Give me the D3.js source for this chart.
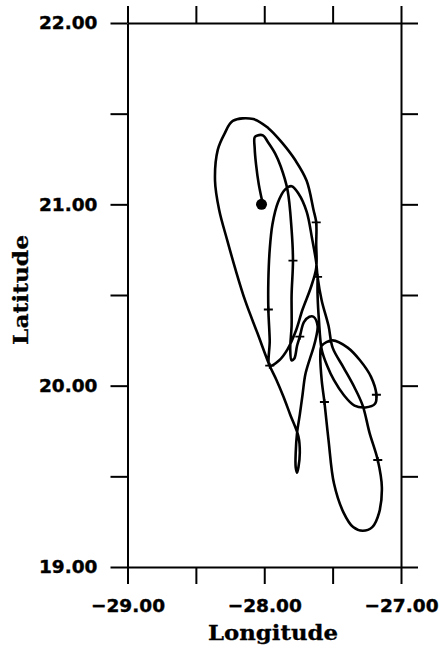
<!DOCTYPE html>
<html>
<head>
<meta charset="utf-8">
<script src="https://cdn.jsdelivr.net/npm/d3@7"></script>
<style>
  body { margin: 0; background: #fff; }
  .axis path, .axis line { stroke: #000; stroke-width: 2; }
  .axis text { font-family: "DejaVu Sans", sans-serif; font-weight: bold; font-size: 18.5px; fill: #000; stroke: #000; stroke-width: 0.4; }
  .title { font-family: "DejaVu Serif", serif; font-weight: bold; font-size: 21px; fill: #000; stroke: #000; stroke-width: 0.3; }
</style>
</head>
<body>
<script>
// track of the drifter, in order (longitude, latitude)
const trackLon = [
  -28.01, -28.04, -28.06, -28.07, -28.07, -28.05, -28.01, -27.97, -27.92, -27.88, -27.83,
  -27.80, -27.79, -27.80, -27.80, -27.81, -27.80, -27.78, -27.76, -27.74, -27.71, -27.67,
  -27.64, -27.61, -27.62, -27.64, -27.67, -27.70, -27.72, -27.74, -27.76,
  -27.77, -27.77, -27.76, -27.75, -27.74, -27.75,
  -27.81, -27.86, -27.91, -27.96,
  -28.05, -28.14, -28.21, -28.27, -28.33, -28.36, -28.34, -28.29, -28.23, -28.08, -27.97,
  -27.87, -27.77, -27.69, -27.64, -27.62, -27.62, -27.62,
  -27.66, -27.72, -27.77, -27.83, -27.89, -27.96,
  -27.96, -27.97, -27.97, -27.96, -27.94, -27.90, -27.85, -27.80, -27.75, -27.69, -27.65,
  -27.62, -27.61,
  -27.58, -27.53, -27.50, -27.42, -27.34, -27.28, -27.23, -27.17, -27.14, -27.16, -27.21,
  -27.28, -27.35, -27.42, -27.49, -27.53, -27.56, -27.58, -27.59, -27.58,
  -27.50, -27.39, -27.30, -27.22, -27.18, -27.19, -27.26, -27.34, -27.42, -27.49, -27.54,
  -27.58, -27.60, -27.61, -27.61
];
const trackLat = [
  21.00, 21.11, 21.22, 21.31, 21.37, 21.38, 21.38, 21.34, 21.28, 21.21, 21.08,
  20.86, 20.69, 20.50, 20.33, 20.20, 20.14, 20.15, 20.22, 20.27, 20.35, 20.38,
  20.38, 20.33, 20.27, 20.21, 20.14, 20.06, 19.95, 19.84, 19.74,
  19.63, 19.55, 19.52, 19.55, 19.63, 19.72,
  19.84, 19.94, 20.03, 20.11,
  20.29, 20.47, 20.64, 20.80, 20.97, 21.13, 21.30, 21.39, 21.46, 21.47, 21.42,
  21.34, 21.24, 21.13, 20.97, 20.90, 20.78, 20.65,
  20.54, 20.42, 20.30, 20.20, 20.14, 20.11,
  20.25, 20.42, 20.58, 20.75, 20.89, 21.01, 21.08, 21.10, 21.06, 20.96, 20.81,
  20.68, 20.60,
  20.47, 20.33, 20.21, 20.10, 19.99, 19.89, 19.74, 19.59, 19.44, 19.30, 19.22,
  19.20, 19.22, 19.30, 19.46, 19.70, 19.91, 20.03, 20.17, 20.22,
  20.25, 20.21, 20.14, 20.05, 19.95, 19.90, 19.88, 19.89, 19.95, 20.03, 20.11,
  20.20, 20.36, 20.50, 20.59
];

// daily marks on the track
const markLon = [-27.79, -27.74, -27.96, -27.62, -27.97, -27.61, -27.17, -27.56, -27.18];
const markLat = [20.69, 20.27, 20.11, 20.90, 20.42, 20.60, 19.59, 19.91, 19.95];

const startLon = -28.02;
const startLat = 21.00;

const lonTicks = [-29, -28.5, -28, -27.5, -27];
const latTicks = [19, 19.5, 20, 20.5, 21, 21.5, 22];

const width = 441, height = 651;

const svg = d3.select("body").append("svg")
    .attr("width", width)
    .attr("height", height);

const x = d3.scaleLinear().domain([-29, -27]).range([127.5, 401]);
const y = d3.scaleLinear().domain([19, 22]).range([567, 23]);

function fmt(d){
    return Number.isInteger(d) ? d.toFixed(2).replace("-", "\u2212") : "";
}

// axes, ticks pointing outwards on all four sides
svg.append("g").attr("class", "axis")
    .attr("transform", "translate(0," + y(19) + ")")
    .call(d3.axisBottom(x).tickValues(lonTicks).tickSize(17).tickSizeOuter(0).tickPadding(15).tickFormat(fmt));

svg.append("g").attr("class", "axis")
    .attr("transform", "translate(0," + y(22) + ")")
    .call(d3.axisTop(x).tickValues(lonTicks).tickSize(17).tickSizeOuter(0).tickFormat(""));

svg.append("g").attr("class", "axis")
    .attr("transform", "translate(" + x(-29) + ",0)")
    .call(d3.axisLeft(y).tickValues(latTicks).tickSize(17).tickSizeOuter(0).tickPadding(13).tickFormat(fmt));

svg.append("g").attr("class", "axis")
    .attr("transform", "translate(" + x(-27) + ",0)")
    .call(d3.axisRight(y).tickValues(latTicks).tickSize(17).tickSizeOuter(0).tickFormat(""));

svg.append("text")
    .attr("class", "title")
    .attr("x", 273)
    .attr("y", 640)
    .attr("text-anchor", "middle")
    .attr("textLength", 130)
    .attr("lengthAdjust", "spacingAndGlyphs")
    .text("Longitude");

svg.append("text")
    .attr("class", "title")
    .attr("transform", "translate(28,290) rotate(-90)")
    .attr("text-anchor", "middle")
    .attr("textLength", 110)
    .attr("lengthAdjust", "spacingAndGlyphs")
    .text("Latitude");

// the track
const pts = trackLon.map(function(d, i){ return [d, trackLat[i]]; });

const line = d3.line()
    .x(function(d){ return x(d[0]); })
    .y(function(d){ return y(d[1]); })
    .curve(d3.curveCatmullRom.alpha(0.5));

svg.append("path")
    .datum(pts)
    .attr("d", line)
    .attr("fill", "none")
    .attr("stroke", "#000")
    .attr("stroke-width", 2.6)
    .attr("stroke-linejoin", "round");

const marks = markLon.map(function(d, i){ return [d, markLat[i]]; });

svg.selectAll(".mark")
    .data(marks)
    .enter()
    .append("path")
    .attr("class", "mark")
    .attr("d", function(d){
        const cx = x(d[0]), cy = y(d[1]);
        return "M" + (cx - 4.5) + "," + cy + "H" + (cx + 4.5) + "M" + cx + "," + (cy - 3) + "V" + (cy + 3);
    })
    .attr("stroke", "#000")
    .attr("stroke-width", 1.8);

svg.append("circle")
    .attr("cx", x(startLon))
    .attr("cy", y(startLat))
    .attr("r", 5.5)
    .attr("fill", "#000");
</script>
</body>
</html>
